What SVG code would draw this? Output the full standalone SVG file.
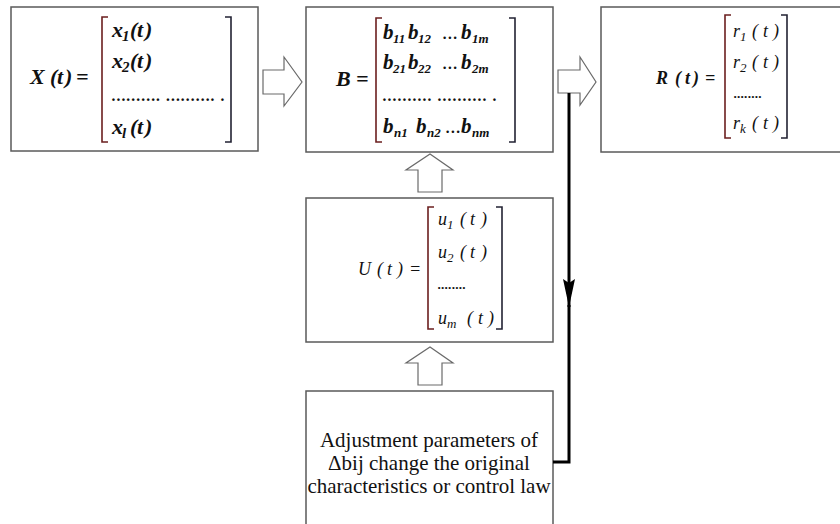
<svg xmlns="http://www.w3.org/2000/svg" width="840" height="524" viewBox="0 0 840 524" font-family="'Liberation Serif', 'DejaVu Serif', serif">
<style>
.box{fill:#fff;stroke:#5a5a5a;stroke-width:1.5}
.blk{fill:#fff;stroke:#6a6a6a;stroke-width:1.2}
.m{font-family:'Liberation Serif','DejaVu Serif',serif;font-style:italic;font-weight:bold;fill:#111}
.mn{font-family:'Liberation Serif','DejaVu Serif',serif;font-style:italic;font-weight:normal;fill:#111}
.lb{fill:none;stroke:#6b1f1f;stroke-width:1.6}
.rb{fill:none;stroke:#222233;stroke-width:1.6}
.t{font-family:'Liberation Serif','DejaVu Serif',serif;font-size:21px;fill:#111;text-anchor:middle}
.con{fill:none;stroke:#000;stroke-width:3}
.s{font-size:13px}
</style>
<defs>
<marker id="ah" markerUnits="userSpaceOnUse" markerWidth="30" markerHeight="14" viewBox="0 0 30 14" refX="28" refY="7" orient="auto">
<path d="M0,1 L4,7 L0,13 L28,7 Z" fill="#000"/>
</marker>
</defs>
<rect width="840" height="524" fill="#fff"/>

<g id="nodeX">
<rect class="box" x="11" y="7" width="247" height="144"/>
<text class="m" font-size="22" y="84" x="30 50 57 65 76">X(t)=</text>
<path class="lb" d="M108,17 H102 V142 H108"/>
<path class="rb" d="M225,17 H231 V142 H225"/>
<text class="m" font-size="22" y="37"><tspan x="112">x</tspan><tspan x="122" y="41" font-size="15">1</tspan><tspan x="130" y="37">(</tspan><tspan x="137">t</tspan><tspan x="145">)</tspan></text>
<text class="m" font-size="22" y="68"><tspan x="112">x</tspan><tspan x="122" y="72" font-size="15">2</tspan><tspan x="130" y="68">(</tspan><tspan x="137">t</tspan><tspan x="145">)</tspan></text>
<text class="m" font-size="16" y="101" x="112" textLength="113" lengthAdjust="spacing">..........  .......... .</text>
<text class="m" font-size="22" y="134"><tspan x="112">x</tspan><tspan x="122" y="138" font-size="15">l</tspan><tspan x="130" y="134">(</tspan><tspan x="137">t</tspan><tspan x="145">)</tspan></text>
</g>

<g id="nodeB">
<rect class="box" x="306" y="7" width="247" height="145"/>
<text class="m" font-size="22" y="86" x="336 356">B=</text>
<path class="lb" d="M382,18 H376 V142 H382"/>
<path class="rb" d="M509,18 H515 V142 H509"/>
<text class="m" font-size="21" y="39"><tspan x="383">b</tspan><tspan x="393" y="43" class="s">11</tspan><tspan x="408" y="39">b</tspan><tspan x="418" y="43" class="s">12</tspan><tspan x="442" y="39" font-weight="normal" font-style="normal">...</tspan><tspan x="461">b</tspan><tspan x="472" y="43" class="s">1m</tspan></text>
<text class="m" font-size="21" y="69"><tspan x="383">b</tspan><tspan x="393" y="73" class="s">21</tspan><tspan x="408" y="69">b</tspan><tspan x="418" y="73" class="s">22</tspan><tspan x="442" y="69" font-weight="normal" font-style="normal">...</tspan><tspan x="461">b</tspan><tspan x="472" y="73" class="s">2m</tspan></text>
<text class="m" font-size="16" y="101" x="383" textLength="114" lengthAdjust="spacing">..........  ..........  .</text>
<text class="m" font-size="21" y="133"><tspan x="383">b</tspan><tspan x="394" y="137" class="s">n1</tspan><tspan x="416" y="133">b</tspan><tspan x="427" y="137" class="s">n2</tspan><tspan x="445" y="133" font-weight="normal" font-style="normal">...</tspan><tspan x="461">b</tspan><tspan x="472" y="137" class="s">nm</tspan></text>
</g>

<g id="nodeR">
<rect class="box" x="601" y="7" width="245" height="145"/>
<text class="m" font-size="18" y="84" x="656 675 685 693 705">R(t)=</text>
<path class="lb" d="M731,15 H725 V138 H731"/>
<path class="rb" d="M781,15 H787 V138 H781"/>
<text class="mn" font-size="18" y="37"><tspan x="733">r</tspan><tspan x="740" y="41" font-size="13">1</tspan><tspan x="752" y="37">(</tspan><tspan x="763">t</tspan><tspan x="773">)</tspan></text>
<text class="mn" font-size="18" y="68"><tspan x="733">r</tspan><tspan x="740" y="72" font-size="13">2</tspan><tspan x="752" y="68">(</tspan><tspan x="763">t</tspan><tspan x="773">)</tspan></text>
<text class="m" font-size="13" y="98" x="734" textLength="28" lengthAdjust="spacing">........</text>
<text class="mn" font-size="18" y="129"><tspan x="733">r</tspan><tspan x="740" y="133" font-size="13">k</tspan><tspan x="752" y="129">(</tspan><tspan x="763">t</tspan><tspan x="773">)</tspan></text>
</g>

<g id="nodeU">
<rect class="box" x="306" y="198" width="247" height="144"/>
<text class="mn" font-size="18" y="275" x="358 377 387 397 409">U(t)=</text>
<path class="lb" d="M434,207 H428 V329 H434"/>
<path class="rb" d="M496,207 H502 V329 H496"/>
<text class="mn" font-size="18" y="225"><tspan x="438">u</tspan><tspan x="447" y="229" font-size="13">1</tspan><tspan x="460" y="225">(</tspan><tspan x="470">t</tspan><tspan x="481">)</tspan></text>
<text class="mn" font-size="18" y="258"><tspan x="438">u</tspan><tspan x="447" y="262" font-size="13">2</tspan><tspan x="460" y="258">(</tspan><tspan x="470">t</tspan><tspan x="481">)</tspan></text>
<text class="m" font-size="13" y="289" x="438" textLength="28" lengthAdjust="spacing">........</text>
<text class="mn" font-size="18" y="324"><tspan x="438">u</tspan><tspan x="447" y="328" font-size="13">m</tspan><tspan x="467" y="324">(</tspan><tspan x="478">t</tspan><tspan x="488">)</tspan></text>
</g>

<g id="nodeAdj">
<rect class="box" x="306" y="391" width="247" height="140"/>
<text class="t" x="429" y="447">Adjustment parameters of</text>
<text class="t" x="429" y="470">Δbij change the original</text>
<text class="t" x="429" y="493">characteristics or control law</text>
</g>

<g id="connectors">
<polygon class="blk" points="263,70 284,70 284,57 302,82 284,106 284,94 263,94"/>
<polygon class="blk" points="558,70 580,70 580,57 596,82 580,105 580,93 558,93"/>
<polygon class="blk" points="418,192 418,170 406,170 430,154 453,170 442,170 442,192"/>
<polygon class="blk" points="418,385 418,363 406,363 430,347 453,363 442,363 442,385"/>
<path class="con" d="M569,93 V307" marker-end="url(#ah)"/>
<path class="con" d="M569,305 V462 H553"/>
</g>
</svg>
